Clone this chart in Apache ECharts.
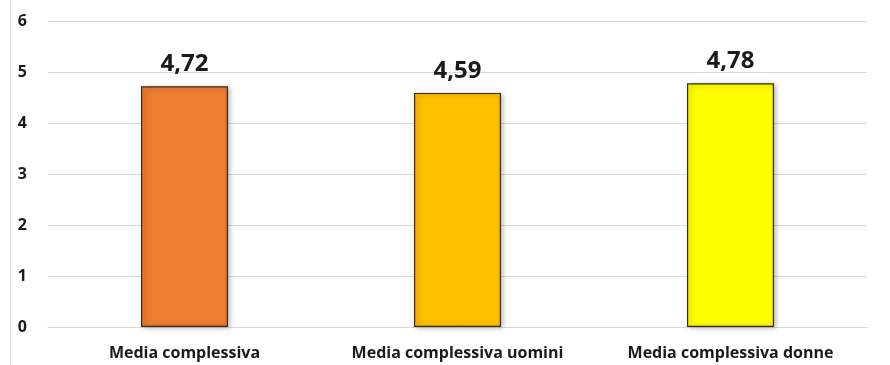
<!DOCTYPE html>
<html><head><meta charset="utf-8">
<script src="https://cdn.jsdelivr.net/npm/echarts@6/dist/echarts.min.js"></script>
<style>html,body{margin:0;padding:0;background:#fff}#c{width:890px;height:365px}</style>
</head><body><div id="c"></div>
<script>
const categories = ['Media complessiva', 'Media complessiva uomini', 'Media complessiva donne'];
const values = [4.72, 4.59, 4.78];
const colors = ['#ED7D31', '#FFC000', '#FFFF00'];
const yTicks = [0, 1, 2, 3, 4, 5, 6];

const chart = echarts.init(document.getElementById('c'));
chart.setOption({
  animation: false,
  grid: { left: 48, right: 23, top: 21, bottom: 38 },
  graphic: [{ type: 'line', shape: { x1: 10.5, y1: 0, x2: 10.5, y2: 365 }, style: { stroke: '#e0e0e0', lineWidth: 1 } }],
  xAxis: {
    type: 'category', data: categories,
    axisLine: { lineStyle: { color: '#d9d9d9' } },
    axisTick: { show: false },
    axisLabel: { interval: 0, color: '#1a1a1a', fontFamily: 'Open Sans', fontWeight: 'bold', fontSize: 16, margin: 18 }
  },
  yAxis: {
    type: 'value', min: 0, max: 6, interval: 1,
    axisLine: { show: false }, axisTick: { show: false },
    splitLine: { lineStyle: { color: '#d9d9d9' } },
    axisLabel: { color: '#1a1a1a', fontFamily: 'Open Sans', fontWeight: 'bold', fontSize: 16, margin: 21,
      formatter: v => yTicks.includes(v) ? String(v) : '' }
  },
  series: [{
    type: 'bar', barWidth: 87,
    data: values.map((v, i) => ({ value: v, itemStyle: { color: colors[i] } })),
    itemStyle: { borderColor: '#3a2a1a', borderWidth: 1.2, shadowColor: 'rgba(0,0,0,0.35)', shadowBlur: 5, shadowOffsetX: 2, shadowOffsetY: 1 },
    label: { show: true, position: 'top', distance: 10, color: '#1a1a1a', fontFamily: 'Open Sans', fontWeight: 'bold', fontSize: 24,
      formatter: p => p.value.toFixed(2).replace('.', ',') }
  }]
});
</script></body></html>
